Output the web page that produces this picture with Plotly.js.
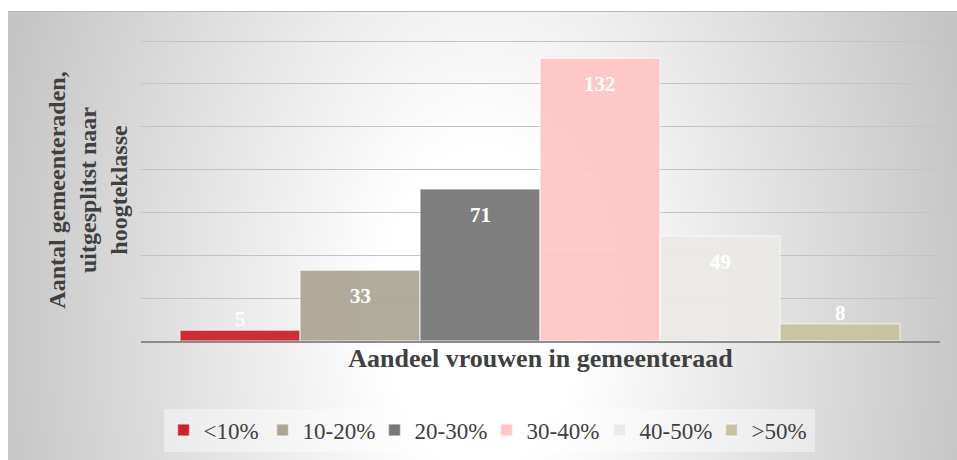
<!DOCTYPE html>
<html><head><meta charset="utf-8">
<script src="https://cdn.plot.ly/plotly-3.0.1.min.js"></script>
<style>
html,body{margin:0;padding:0;background:#fff;overflow:hidden;}
#bg{position:absolute;left:8px;top:11px;width:949px;height:449px;border-top:1px solid #b9b9b9;box-sizing:border-box;
background:radial-gradient(500px 800px at 50% 66%, #ffffff 0%, #ffffff 20%, #c4c4c4 100%);}
#chart{position:absolute;left:0;top:0;width:957px;height:460px;}
</style></head><body>
<div id="bg"></div><div id="chart"></div>
<script>
// Data
const categories = ['<10%', '10-20%', '20-30%', '30-40%', '40-50%', '>50%'];
const values = [5, 33, 71, 132, 49, 8];
const xTitle = 'Aandeel vrouwen in gemeenteraad';
const yTitle = 'Aantal gemeenteraden,<br>uitgesplitst naar<br>hoogteklasse';

// Styles
const colors = ['#C8242A', '#ADA696', '#787878', '#FFC6C6', '#ECEAE6', '#C9C3A1'];
const legendWidths = [54, 67, 67, 68, 67, 58];
const serif = '"Liberation Serif", "DejaVu Serif", serif';

const traces = categories.map((c, i) => ({
  type: 'bar',
  name: c,
  x: [c],
  y: [values[i]],
  legendwidth: legendWidths[i],
  marker: { color: colors[i], opacity: 0.94, line: { color: 'rgba(255,255,255,0.55)', width: 1.5 } },
  hoverinfo: 'name+y'
}));

const annotations = categories.map((c, i) => ({
  x: c, y: values[i], xref: 'x', yref: 'y',
  text: String(values[i]), showarrow: false,
  yanchor: 'middle', yshift: values[i] > 20 ? -26 : 11,
  font: { family: serif, size: 21, color: '#ffffff', weight: 'bold' }
}));

const layout = {
  width: 957, height: 460,
  margin: { l: 141, r: 17, t: 39, b: 119 },
  paper_bgcolor: 'rgba(0,0,0,0)',
  plot_bgcolor: 'rgba(0,0,0,0)',
  barmode: 'overlay',
  bargap: 0,
  showlegend: true,
  font: { family: serif, color: '#404040' },
  xaxis: {
    type: 'category', categoryorder: 'array', categoryarray: categories,
    range: [-0.825, 5.833],
    showticklabels: false, ticks: '', showgrid: false, zeroline: false,
    showline: true, linecolor: '#8c8c8c', linewidth: 1.5,
    title: { text: xTitle, standoff: 7, font: { family: serif, size: 26, color: '#404040', weight: 'bold' } },
    fixedrange: true
  },
  yaxis: {
    range: [0, 141], dtick: 20, tick0: 0,
    showticklabels: false, ticks: '', zeroline: false, showline: false,
    gridcolor: '#c4c4c4', gridwidth: 1,
    title: { text: yTitle, standoff: 5, font: { family: serif, size: 24, color: '#404040', weight: 'bold' } },
    fixedrange: true
  },
  legend: {
    orientation: 'h', xref: 'container', yref: 'container',
    x: 0.511, xanchor: 'center', y: 0.065, yanchor: 'middle',
    bgcolor: 'rgba(255,255,255,0.4)',
    font: { family: serif, size: 23, color: '#404040' },
    traceorder: 'normal'
  },
  annotations: annotations
};

Plotly.newPlot('chart', traces, layout, { displayModeBar: false, staticPlot: true });
</script>
</body></html>
